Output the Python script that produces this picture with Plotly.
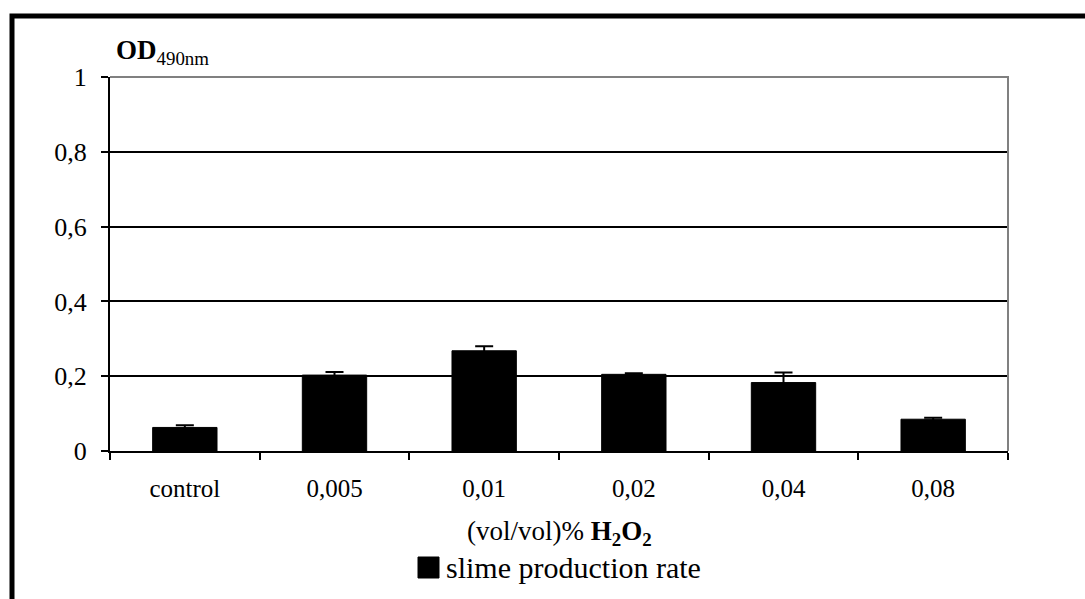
import plotly.graph_objects as go

categories = ["control", "0,005", "0,01", "0,02", "0,04", "0,08"]
values = [0.063, 0.203, 0.268, 0.205, 0.183, 0.085]
errors = [0.006, 0.008, 0.012, 0.003, 0.027, 0.004]
ytick_vals = [0, 0.2, 0.4, 0.6, 0.8, 1]
ytick_text = ["0", "0,2", "0,4", "0,6", "0,8", "1"]
series_name = "slime production rate"

W, H = 1085, 599
L, R, T, B = 110, 77, 77, 148
PW, PH = W - L - R, H - T - B


def px(x):
    return (x - L) / PW


def py(y):
    return (H - B - y) / PH


FONT = "'Liberation Serif', 'Times New Roman', serif"

fig = go.Figure()
fig.add_trace(go.Bar(
    x=categories, y=values, name=series_name,
    marker=dict(color="black", line=dict(color="black", width=1)),
    width=0.43,
    error_y=dict(type="data", array=errors, visible=True, color="black",
                 thickness=2, width=9),
    showlegend=False,
))

shapes = [
    # outer frame
    dict(type="path", xref="paper", yref="paper",
         path=f"M {px(12)} {py(700)} L {px(12)} {py(16)} L {px(1200)} {py(16)}",
         line=dict(color="black", width=5)),
    # gray plot-area border top/right
    dict(type="path", xref="paper", yref="paper",
         path="M 0 1 L 1 1 L 1 0",
         line=dict(color="#808080", width=2)),
    # legend square
    dict(type="rect", xref="paper", yref="paper",
         x0=px(418), x1=px(439), y0=py(578), y1=py(557),
         fillcolor="black", line=dict(color="black", width=1)),
]

annotations = [
    dict(text="<b>OD</b><sub>490nm</sub>", xref="paper", yref="paper",
         x=px(114), y=py(52), xanchor="left", yanchor="middle",
         showarrow=False, font=dict(family=FONT, size=27, color="black")),
    dict(text="(vol/vol)% <b>H<sub>2</sub>O<sub>2</sub></b>", xref="paper", yref="paper",
         x=0.5, y=py(533), xanchor="center", yanchor="middle",
         showarrow=False, font=dict(family=FONT, size=27, color="black")),
    dict(text=series_name, xref="paper", yref="paper",
         x=px(444), y=py(567), xanchor="left", yanchor="middle",
         showarrow=False, font=dict(family=FONT, size=30, color="black")),
]

fig.update_layout(
    width=W, height=H,
    margin=dict(l=L, r=R, t=T, b=B, autoexpand=False),
    paper_bgcolor="white", plot_bgcolor="white",
    font=dict(family=FONT, size=25, color="black"),
    bargap=0.57,
    shapes=shapes,
    annotations=annotations,
    xaxis=dict(
        type="category", showline=True, linecolor="black", linewidth=2,
        ticks="outside", tickson="boundaries", ticklen=7, tickcolor="black", tickwidth=1.5,
        showgrid=False, ticklabelstandoff=14,
        tickfont=dict(family=FONT, size=25, color="black"),
    ),
    yaxis=dict(
        range=[0, 1], showline=True, linecolor="black", linewidth=2,
        tickvals=ytick_vals, ticktext=ytick_text,
        ticks="outside", ticklen=7, tickcolor="black", tickwidth=1.5,
        showgrid=True, gridcolor="black", gridwidth=1.5,
        zeroline=False, ticklabelstandoff=9,
        tickfont=dict(family=FONT, size=26, color="black"),
    ),
)

fig.write_html("out.html")
